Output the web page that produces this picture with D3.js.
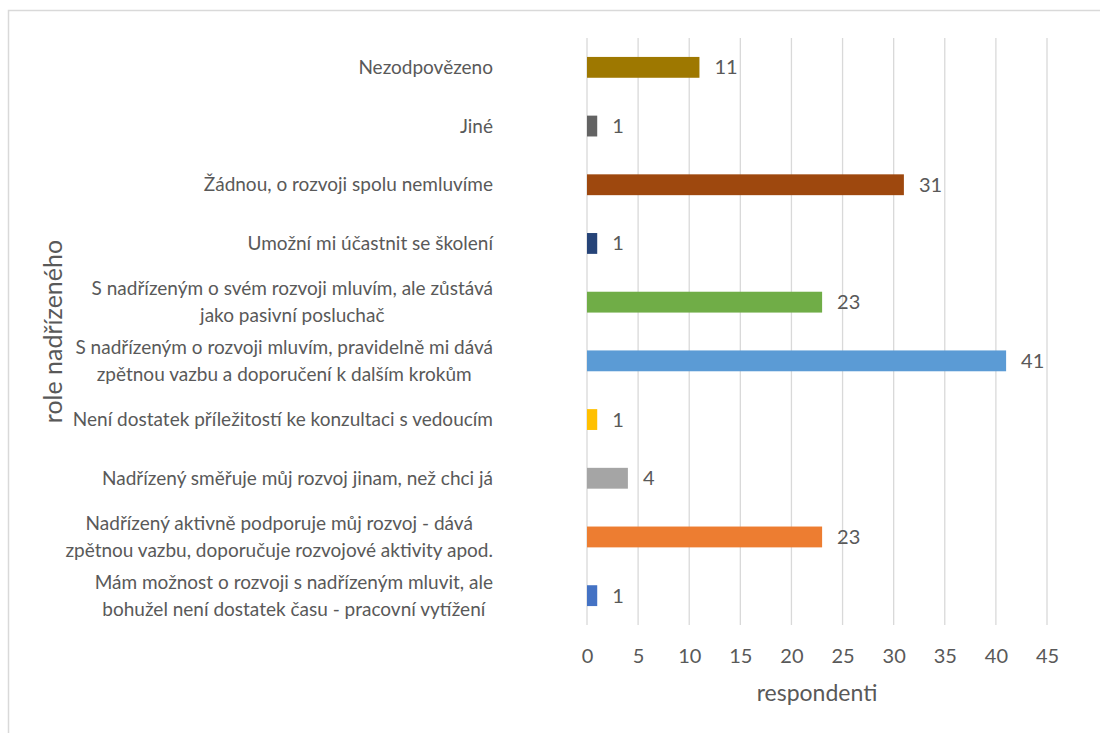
<!DOCTYPE html>
<html>
<head>
<meta charset="utf-8">
<script src="https://cdn.jsdelivr.net/npm/d3@7"></script>
<style>
  body { margin: 0; background: #fff; }
  text { font-family: Lato, "Open Sans", sans-serif; fill: #595959; }
</style>
</head>
<body>
<svg id="chart" width="1100" height="733"></svg>
<script>
// categories top to bottom, each label split into its wrapped lines
const categories = [
  ["Nezodpovězeno"],
  ["Jiné"],
  ["Žádnou, o rozvoji spolu nemluvíme"],
  ["Umožní mi účastnit se školení"],
  ["S nadřízeným o svém rozvoji mluvím, ale zůstává", "jako pasivní posluchač"],
  ["S nadřízeným o rozvoji mluvím, pravidelně mi dává", "zpětnou vazbu a doporučení k dalším krokům"],
  ["Není dostatek příležitostí ke konzultaci s vedoucím"],
  ["Nadřízený směřuje můj rozvoj jinam, než chci já"],
  ["Nadřízený aktivně podporuje můj rozvoj - dává", "zpětnou vazbu, doporučuje rozvojové aktivity apod."],
  ["Mám možnost o rozvoji s nadřízeným mluvit, ale", "bohužel není dostatek času - pracovní vytížení"]
];
const values = [11, 1, 31, 1, 23, 41, 1, 4, 23, 1];
const colors = ["#9e7800", "#636363", "#9e480e", "#264478", "#70ad47",
                "#5b9bd5", "#ffc000", "#a5a5a5", "#ed7d31", "#4472c4"];
const xTicks = [0, 5, 10, 15, 20, 25, 30, 35, 40, 45];

const fs = 19;
const svg = d3.select('#chart');

// outer frame of the chart area
svg.append('rect')
  .attr('x', 8.5).attr('y', 10.5)
  .attr('width', 1200).attr('height', 800)
  .attr('fill', 'none')
  .attr('stroke', '#d9d9d9')
  .attr('stroke-width', 1.5);

const plot = { left: 587, right: 1047, top: 38, bottom: 625 };
const idx = d3.range(categories.length);

let x = d3.scaleLinear().domain([0, 45]).range([plot.left, plot.right]);
let y = d3.scaleBand().domain(idx).range([plot.top, plot.bottom])
  .paddingInner(0.645).paddingOuter(0.3225);

// vertical gridlines
svg.selectAll('.grid')
  .data(xTicks)
  .enter().append('line')
  .attr('class', 'grid')
  .attr('x1', d => x(d)).attr('x2', d => x(d))
  .attr('y1', plot.top).attr('y2', plot.bottom)
  .attr('stroke', '#d9d9d9')
  .attr('stroke-width', 1.3);

// x axis tick labels
let xAxis = d3.axisBottom(x).tickValues(xTicks).tickSize(0).tickPadding(24);
let gx = svg.append('g')
  .attr('transform', 'translate(0,' + plot.bottom + ')')
  .call(xAxis);
gx.select('.domain').remove();
gx.selectAll('text')
  .attr('font-size', fs + 1)
  .style('font-family', 'Lato, "Open Sans", sans-serif')
  .style('fill', '#595959');

// bars
svg.selectAll('.bar')
  .data(idx)
  .enter().append('rect')
  .attr('class', 'bar')
  .attr('x', x(0))
  .attr('y', i => y(i))
  .attr('width', i => x(values[i]) - x(0))
  .attr('height', y.bandwidth())
  .attr('fill', i => colors[i]);

// value labels
svg.selectAll('.val')
  .data(idx)
  .enter().append('text')
  .attr('class', 'val')
  .attr('x', i => x(values[i]) + 15)
  .attr('y', i => y(i) + y.bandwidth() / 2)
  .attr('dy', '0.35em')
  .attr('font-size', fs + 1)
  .text(i => values[i]);

// category labels, wrapped lines centred on each other, block right-aligned
const labelRight = 493;
const lineH = 27;
idx.forEach(i => {
  let lines = categories[i];
  let g = svg.append('g');
  let cy = y(i) + y.bandwidth() / 2;
  let texts = lines.map((s, k) => g.append('text')
    .attr('font-size', fs)
    .attr('y', cy + (k - (lines.length - 1) / 2) * lineH)
    .attr('dy', '0.35em')
    .text(s));
  let maxW = d3.max(texts, t => t.node().getComputedTextLength());
  texts.forEach(t => t.attr('x', labelRight - maxW / 2).attr('text-anchor', 'middle'));
});

// axis titles
svg.append('text')
  .attr('x', (plot.left + plot.right) / 2)
  .attr('y', 693)
  .attr('dy', '0.35em')
  .attr('text-anchor', 'middle')
  .attr('font-size', 23)
  .text('respondenti');

svg.append('text')
  .attr('transform', 'translate(53,' + (plot.top + plot.bottom) / 2 + ') rotate(-90)')
  .attr('dy', '0.35em')
  .attr('text-anchor', 'middle')
  .attr('font-size', 25)
  .text('role nadřízeného');
</script>
</body>
</html>
